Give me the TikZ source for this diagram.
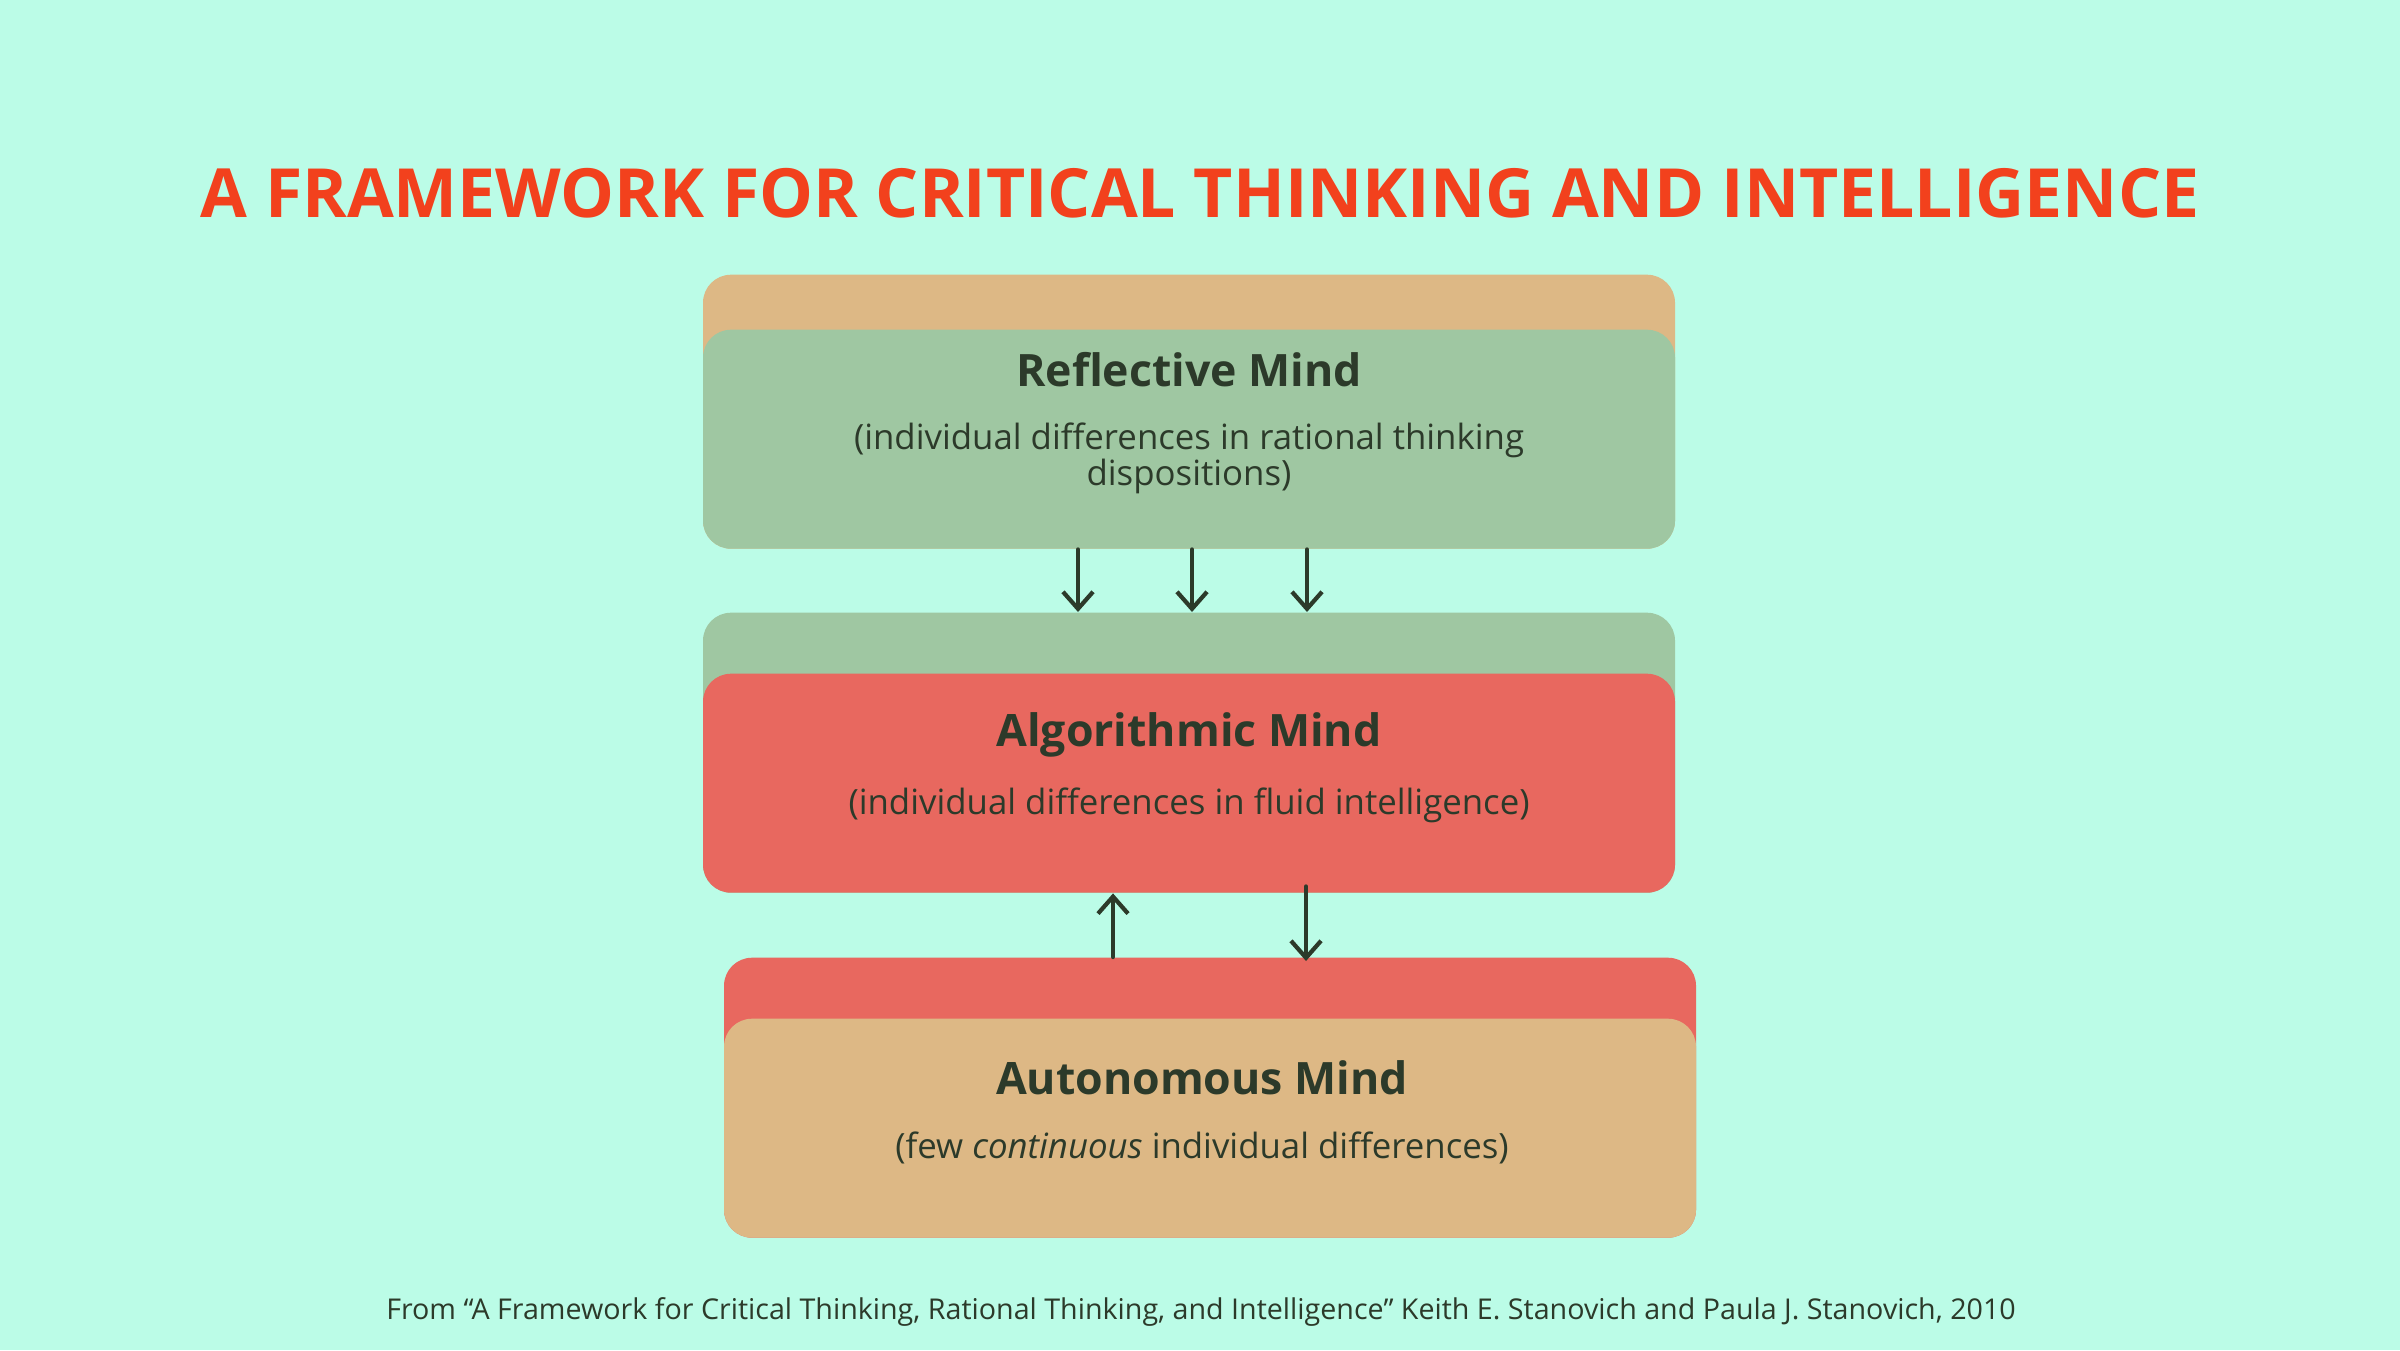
\documentclass[tikz,border=0pt]{standalone}
\usepackage{fontspec}
\setmainfont{Open Sans}
\usetikzlibrary{arrows.meta}

\definecolor{mint}{HTML}{BBFCE7}
\definecolor{sand}{HTML}{DDB885}
\definecolor{sage}{HTML}{9FC7A2}
\definecolor{coral}{HTML}{E8685F}
\definecolor{ink}{HTML}{2C3A2A}
\definecolor{flame}{HTML}{F2411D}

\tikzset{
	layer/.style={rounded corners=0.28cm, minimum width=9.72cm, anchor=north, inner sep=0pt},
	head/.style={text=ink, font=\fontsize{12.7}{15}\selectfont\bfseries},
	sub/.style={text=ink, font=\fontsize{9.9}{10.3}\selectfont, align=center},
	flow/.style={draw=ink, line width=1.2pt, line cap=round, -{Straight Barb[length=0.17cm, width=0.3cm]}}
}

\begin{document}
\begin{tikzpicture}

	% Background and page size
	\fill [mint] (0,0) rectangle (24,13.5);
	\useasboundingbox (0,0) rectangle (24,13.5);

	% Title
	\node [text=flame, font=\fontsize{19.3}{23}\selectfont\bfseries] (title) at (12,11.57) {A FRAMEWORK FOR CRITICAL THINKING AND INTELLIGENCE};

	% Reflective mind
	\node [layer, fill=sand, minimum height=2.74cm] (reflback) at (11.89,10.76) {};
	\node [layer, fill=sage, minimum height=2.19cm] (refl) at (11.89,10.21) {};
	\node [head] (reflhead) at (11.89,9.80) {Reflective Mind};
	\node [sub] (reflsub) at (11.89,8.915) {(individual differences in rational thinking\\dispositions)};

	% Algorithmic mind
	\node [layer, fill=sage, minimum height=2.80cm] (algoback) at (11.89,7.38) {};
	\node [layer, fill=coral, minimum height=2.19cm] (algo) at (11.89,6.77) {};
	\node [head] (algohead) at (11.89,6.15) {Algorithmic Mind};
	\node [sub] (algosub) at (11.89,5.45) {(individual differences in fluid intelligence)};

	% Autonomous mind
	\node [layer, fill=coral, minimum height=2.80cm] (autoback) at (12.10,3.93) {};
	\node [layer, fill=sand, minimum height=2.19cm] (auto) at (12.10,3.32) {};
	\node [head] (autohead) at (12.02,2.72) {Autonomous Mind};
	\node [sub] (autosub) at (12.02,2.02) {(few \textit{continuous} individual differences)};

	% Arrows between the minds
	\draw [flow] ([xshift=-1.11cm]refl.south) -- ([xshift=-1.11cm]algoback.north);
	\draw [flow] ([xshift=0.03cm]refl.south) -- ([xshift=0.03cm]algoback.north);
	\draw [flow] ([xshift=1.18cm]refl.south) -- ([xshift=1.18cm]algoback.north);
	\coordinate (upfoot) at ([xshift=-0.97cm]autoback.north);
	\coordinate (downfoot) at ([xshift=0.96cm, yshift=-0.04cm]autoback.north);
	\draw [flow] (upfoot) -- (upfoot |- algo.south);
	\draw [flow] ([yshift=0.07cm]downfoot |- algo.south) -- (downfoot);

	% Source
	\node [text=ink, font=\fontsize{8.15}{10}\selectfont] (source) at (12.01,0.38) {From “A Framework for Critical Thinking, Rational Thinking, and Intelligence” Keith E. Stanovich and Paula J. Stanovich, 2010};

\end{tikzpicture}
\end{document}
